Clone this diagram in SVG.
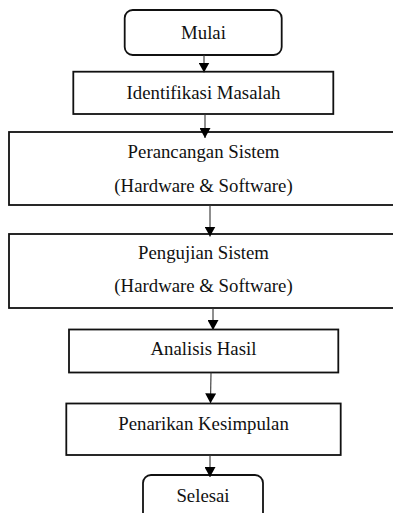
<svg xmlns="http://www.w3.org/2000/svg" width="393" height="513" viewBox="0 0 393 513">
<defs>
<style>
.box{fill:#fff;stroke:#111;stroke-width:1.8}
.t{font-family:"Liberation Serif","Times New Roman",serif;font-size:18.8px;fill:#111;text-anchor:middle}
.c{stroke:#333;stroke-width:1.1;fill:none}
</style>
<marker id="ah" viewBox="0 0 10 11" refX="10" refY="5.5" markerWidth="10" markerHeight="11" markerUnits="userSpaceOnUse" orient="auto">
<path d="M0,0 L10,5.5 L0,11 Z" fill="#000"/>
</marker>
</defs>
<rect width="393" height="513" fill="#fff"/>
<g id="mulai"><rect class="box" x="124.7" y="10" width="157" height="45" rx="8"/><text class="t" x="203.5" y="39">Mulai</text></g>
<g id="identifikasi"><rect class="box" x="73.3" y="71.7" width="260" height="42.3"/><text class="t" x="203.5" y="99">Identifikasi Masalah</text></g>
<g id="perancangan"><rect class="box" x="9" y="132" width="400" height="73"/><text class="t" x="203.5" y="157.5">Perancangan Sistem</text><text class="t" x="203.5" y="191.5">(Hardware &amp; Software)</text></g>
<g id="pengujian"><rect class="box" x="9" y="234" width="400" height="74"/><text class="t" x="203.5" y="258.5">Pengujian Sistem</text><text class="t" x="203.5" y="291.5">(Hardware &amp; Software)</text></g>
<g id="analisis"><rect class="box" x="69" y="329.5" width="269.3" height="43"/><text class="t" x="203.5" y="355">Analisis Hasil</text></g>
<g id="penarikan"><rect class="box" x="66.3" y="403.5" width="274.4" height="51.5"/><text class="t" x="203.5" y="430">Penarikan Kesimpulan</text></g>
<g id="selesai"><rect class="box" x="143" y="475" width="120" height="50" rx="8"/><text class="t" x="203" y="502">Selesai</text></g>
<g id="connectors">
<line class="c" x1="204" y1="55" x2="204" y2="72.5" marker-end="url(#ah)"/>
<line class="c" x1="205" y1="114" x2="205" y2="138" marker-end="url(#ah)"/>
<line class="c" x1="210" y1="205" x2="210" y2="236.5" marker-end="url(#ah)"/>
<line class="c" x1="213" y1="308" x2="213" y2="330" marker-end="url(#ah)"/>
<line class="c" x1="211" y1="372.5" x2="210.5" y2="403.3" marker-end="url(#ah)"/>
<line class="c" x1="210" y1="455" x2="210" y2="477" marker-end="url(#ah)"/>
</g>
</svg>
